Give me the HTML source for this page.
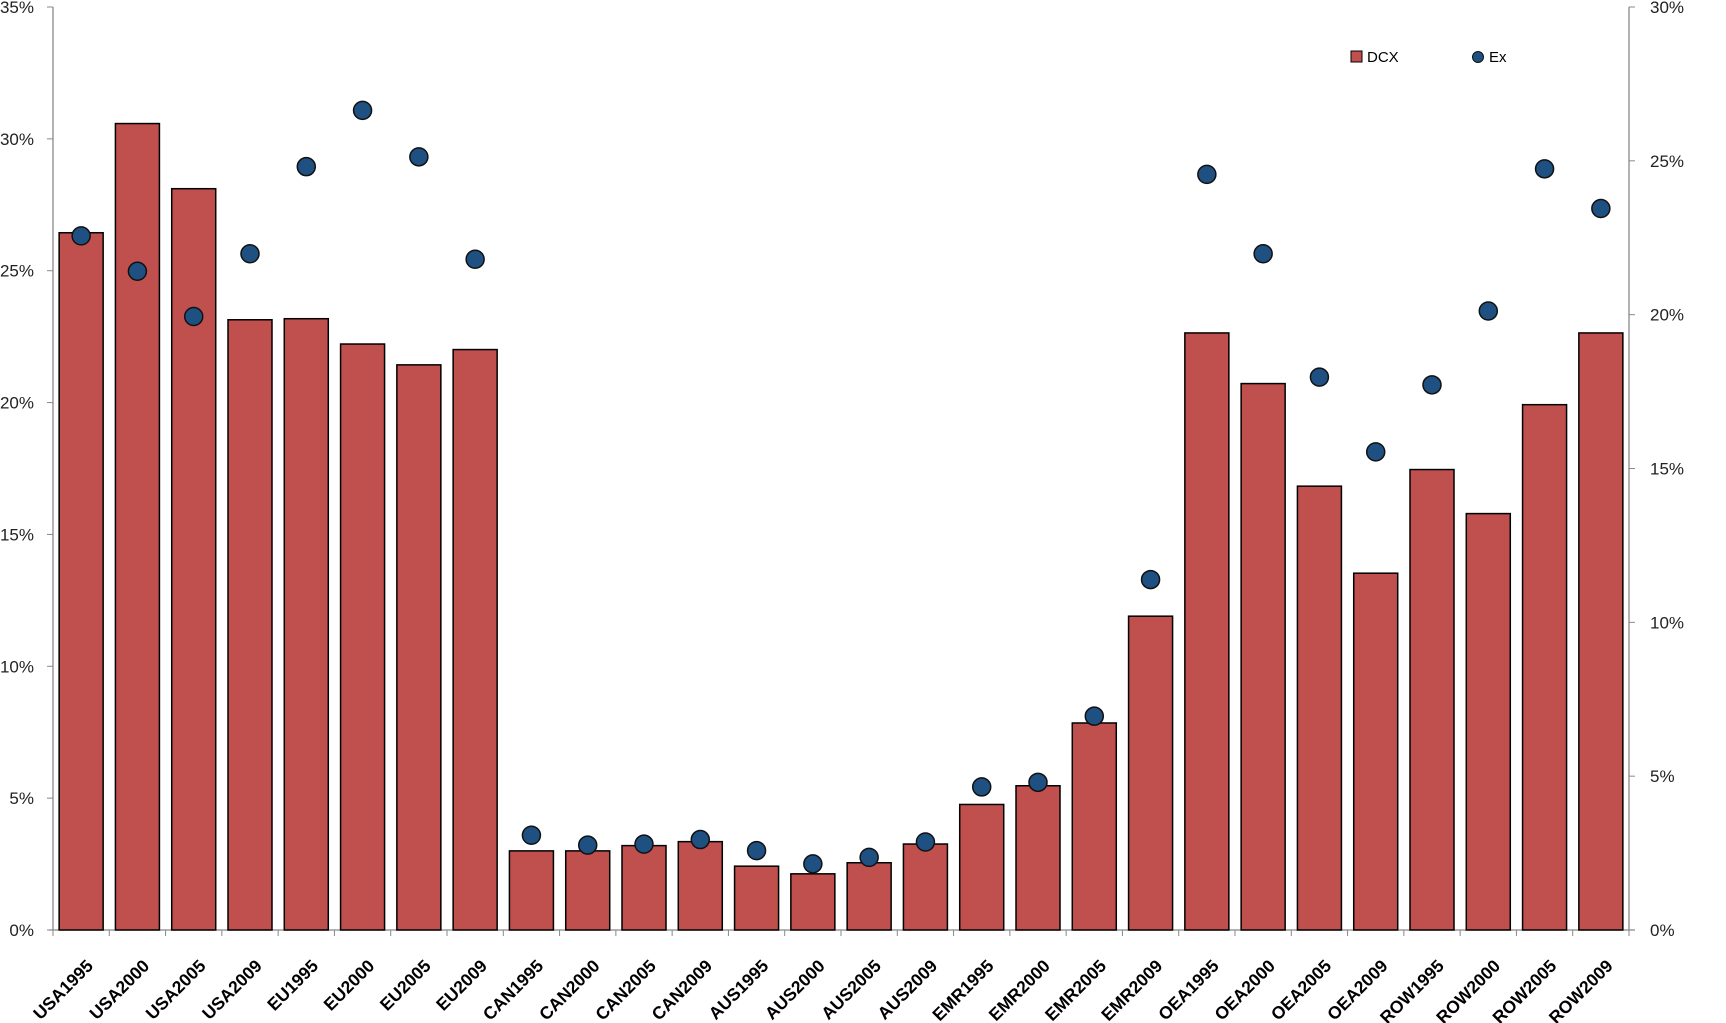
<!DOCTYPE html>
<html><head><meta charset="utf-8"><style>
html,body{margin:0;padding:0;background:#fff;}
svg{display:block;font-family:"Liberation Sans",sans-serif;}
</style></head><body>
<svg id="c" width="1726" height="1023" viewBox="0 0 1726 1023"></svg>
<script>
var cats=["USA1995","USA2000","USA2005","USA2009","EU1995","EU2000","EU2005","EU2009","CAN1995","CAN2000","CAN2005","CAN2009","AUS1995","AUS2000","AUS2005","AUS2009","EMR1995","EMR2000","EMR2005","EMR2009","OEA1995","OEA2000","OEA2005","OEA2009","ROW1995","ROW2000","ROW2005","ROW2009"];
var bars=[26.44,30.58,28.11,23.14,23.18,22.22,21.43,22.01,3.0,3.0,3.2,3.35,2.42,2.13,2.55,3.26,4.76,5.47,7.85,11.9,22.64,20.72,16.83,13.53,17.46,15.79,19.92,22.64];
var dots=[22.56,21.41,19.94,21.98,24.81,26.64,25.13,21.8,3.08,2.76,2.79,2.94,2.58,2.15,2.36,2.86,4.65,4.8,6.95,11.39,24.56,21.98,17.97,15.54,17.72,20.12,24.74,23.45];
var L=53,R=1629,T=7,B=930,H=B-T,n=28,w=(R-L)/n;
var s='';
function yl(v){return B-v/35*H;}function yr(v){return B-v/30*H;}
s+='<line x1="'+L+'" y1="'+T+'" x2="'+L+'" y2="'+B+'" stroke="#888" stroke-width="1.3"/>';
s+='<line x1="'+R+'" y1="'+T+'" x2="'+R+'" y2="'+B+'" stroke="#888" stroke-width="1.3"/>';
s+='<line x1="'+(L-4)+'" y1="'+B+'" x2="'+(R+6)+'" y2="'+B+'" stroke="#888" stroke-width="1.3"/>';
for(var i=0;i<=7;i++){var y=yl(i*5);s+='<line x1="'+(L-6)+'" y1="'+y+'" x2="'+L+'" y2="'+y+'" stroke="#888"/>';
s+='<text x="'+(L-19)+'" y="'+(y+6)+'" font-size="17" text-anchor="end" fill="#222">'+(i*5)+'%</text>';}
for(var i=0;i<=6;i++){var y=yr(i*5);s+='<line x1="'+R+'" y1="'+y+'" x2="'+(R+6)+'" y2="'+y+'" stroke="#888"/>';
s+='<text x="'+(R+21)+'" y="'+(y+6)+'" font-size="17" fill="#222">'+(i*5)+'%</text>';}
for(var i=0;i<=n;i++){var x=L+i*w;s+='<line x1="'+x+'" y1="'+B+'" x2="'+x+'" y2="'+(B+6)+'" stroke="#888"/>';}
for(var i=0;i<n;i++){var cx=L+(i+0.5)*w,y=yl(bars[i]);
s+='<rect x="'+(cx-22)+'" y="'+y+'" width="44" height="'+(B-y)+'" fill="#c0504d" stroke="#000" stroke-width="1.5"/>';}
for(var i=0;i<n;i++){var cx=L+(i+0.5)*w;
s+='<circle cx="'+cx+'" cy="'+yr(dots[i])+'" r="9" fill="#1f5082" stroke="#111" stroke-width="1.5"/>';
var ax=cx+13,ay=967;
s+='<text x="'+ax+'" y="'+ay+'" font-size="17.5" font-weight="bold" text-anchor="end" transform="rotate(-45 '+ax+' '+ay+')" fill="#000">'+cats[i]+'</text>';}
s+='<rect x="1351" y="51" width="11" height="11" fill="#c0504d" stroke="#000" stroke-width="1"/>';
s+='<text x="1367" y="62" font-size="15" fill="#000">DCX</text>';
s+='<circle cx="1478" cy="57" r="5.5" fill="#1f5082" stroke="#111" stroke-width="1"/>';
s+='<text x="1489" y="62" font-size="15" fill="#000">Ex</text>';
document.getElementById('c').innerHTML=s;
</script>
</body></html>
